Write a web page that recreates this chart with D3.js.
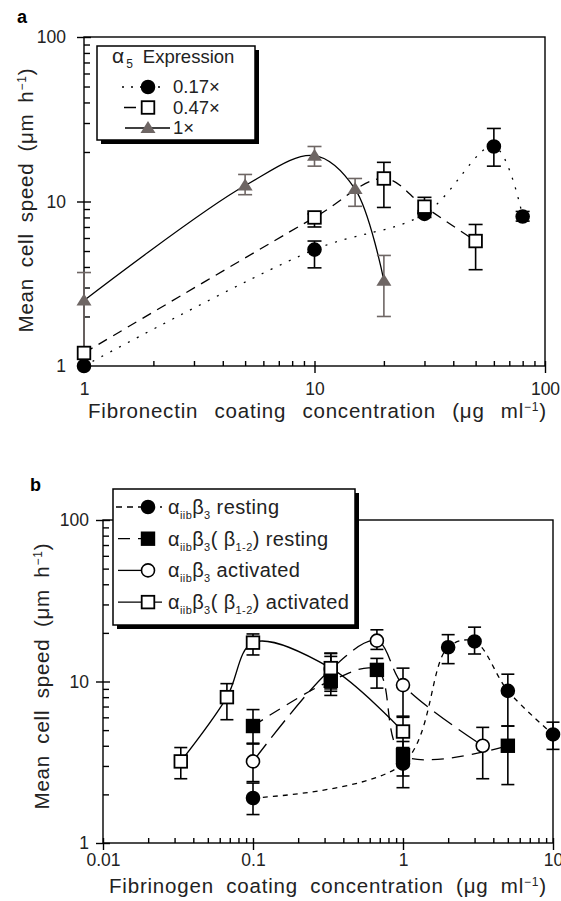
<!DOCTYPE html>
<html>
<head>
<meta charset="utf-8">
<script src="https://cdn.jsdelivr.net/npm/d3@7"></script>
<style>
  body { margin: 0; background: #fff; }
  text { font-family: "Liberation Sans", Arial, sans-serif; fill: #222; }
  .tick text { font-size: 17.5px; }
  .tick line { stroke: #000; stroke-width: 1.4; }
  .title { letter-spacing: 0.8px; }
</style>
</head>
<body>
<div id="chart"></div>
<script>
"use strict";
const svg = d3.select("#chart").append("svg")
    .attr("width", 561)
    .attr("height", 901);

// ---- panel a : fibronectin, alpha5 expression levels ----
const aCircX = [1, 10, 30, 60, 80],
    aCircY = [1.0, 5.1, 8.4, 21.6, 8.1],
    aCircLo = [null, 3.95, 8.0, 16.4, 7.6],
    aCircHi = [null, 5.75, 8.8, 27.8, 8.7];
const aSqX = [1, 10, 20, 30, 50],
    aSqY = [1.2, 8.0, 13.8, 9.3, 5.75],
    aSqLo = [null, 7.0, 9.2, 8.5, 3.85],
    aSqHi = [null, 8.4, 17.3, 10.6, 7.25];
const aTriX = [1, 5, 10, 15, 20],
    aTriY = [2.5, 12.5, 19.0, 11.9, 3.3],
    aTriLo = [1.3, 11.0, 16.4, 9.35, 2.0],
    aTriHi = [3.7, 14.6, 21.6, 13.8, 4.7];
const aLegend = ["0.17\u00d7", "0.47\u00d7", "1\u00d7"];

// ---- panel b : fibrinogen, alphaIIb beta3 variants ----
const bFcX = [0.1, 1, 2, 3, 5, 10],
    bFcY = [1.9, 3.1, 16.3, 17.7, 8.75, 4.7],
    bFcLo = [1.5, 2.2, 12.9, 14.8, 5.3, 3.8],
    bFcHi = [2.35, 3.7, 19.5, 21.7, 11.1, 5.6];
const bFsX = [0.1, 0.33, 0.67, 1, 5],
    bFsY = [5.3, 10.1, 11.8, 3.5, 4.0],
    bFsLo = [4.15, 8.2, 9.1, 2.6, 2.3],
    bFsHi = [6.7, 14.3, 13.9, 4.25, 5.3];
const bOcX = [0.1, 0.33, 0.67, 1, 3.4],
    bOcY = [3.2, 11.9, 17.9, 9.5, 4.0],
    bOcLo = [2.4, 8.7, 15.8, 6.1, 2.5],
    bOcHi = [4.1, 14.9, 20.9, 12.1, 5.2];
const bOsX = [0.033, 0.067, 0.1, 0.33, 1],
    bOsY = [3.2, 8.0, 17.4, 12.1, 4.9],
    bOsLo = [2.5, 5.8, 14.6, 9.0, 3.9],
    bOsHi = [3.9, 9.7, 19.7, 15.0, 6.0];
const bLegendTail = ["resting", "resting", "activated", "activated"];

// tick labels
const aXTicks = [1, 10, 100], aXLabels = ["1", "10", "100"];
const aYTicks = [1, 10, 100], aYLabels = ["1", "10", "100"];
const bXTicks = [0.01, 0.1, 1, 10], bXLabels = ["0.01", "0.1", "1", "10"];
const bYTicks = [1, 10, 100], bYLabels = ["1", "10", "100"];

const grey = "#6e6664";

const xA = d3.scaleLog().domain([1, 100]).range([84, 545]);
const yA = d3.scaleLog().domain([1, 100]).range([366, 37]);
const xB = d3.scaleLog().domain([0.01, 10]).range([103, 553]);
const yB = d3.scaleLog().domain([1, 100]).range([843, 520]);

const isMajor = d => Math.abs(Math.log10(d) - Math.round(Math.log10(d))) < 1e-6;

function drawAxes(x, y, o) {
    const g = svg.append("g");
    const [x0, x1] = x.range(), [y0, y1] = y.range();
    // minor ticks, pointing in
    g.append("g").attr("transform", `translate(0,${y0})`)
        .call(d3.axisBottom(x).tickValues(x.ticks().filter(d => !isMajor(d))).tickSize(-5).tickFormat(""))
        .call(s => s.select(".domain").remove());
    g.append("g").attr("transform", `translate(${x0},0)`)
        .call(d3.axisLeft(y).tickValues(y.ticks().filter(d => !isMajor(d))).tickSize(-6).tickFormat(""))
        .call(s => s.select(".domain").remove());
    // major ticks cross the axis
    g.append("g").attr("transform", `translate(0,${y0})`)
        .call(d3.axisBottom(x).tickValues(o.xTicks).tickFormat((d, i) => o.xLabels[i])
            .tickSize(7).tickPadding(o.xPad))
        .call(s => s.select(".domain").remove())
        .call(s => s.selectAll(".tick line").attr("y1", -5));
    g.append("g").attr("transform", `translate(${x0},0)`)
        .call(d3.axisLeft(y).tickValues(o.yTicks).tickFormat((d, i) => o.yLabels[i])
            .tickSize(7).tickPadding(o.yPad))
        .call(s => s.select(".domain").remove())
        .call(s => s.selectAll(".tick line").attr("x1", 7));
    g.append("rect")
        .attr("x", x0).attr("y", y1)
        .attr("width", x1 - x0).attr("height", y0 - y1)
        .attr("fill", "none").attr("stroke", "#000").attr("stroke-width", 1.4);
}

function drawLine(x, y, xs, ys, dash, color) {
    const line = d3.line()
        .x(d => x(d[0])).y(d => y(d[1]))
        .curve(d3.curveCatmullRom.alpha(0.5));
    svg.append("path")
        .datum(d3.zip(xs, ys))
        .attr("d", line)
        .attr("fill", "none")
        .attr("stroke", color || "#000")
        .attr("stroke-width", 1.3)
        .attr("stroke-dasharray", dash);
}

function drawErr(x, y, xs, lo, hi, color, cap) {
    const pts = xs.map((d, i) => ({x: d, lo: lo[i], hi: hi[i]})).filter(d => d.lo != null);
    const g = svg.append("g").attr("stroke", color || "#000").attr("stroke-width", 1.6);
    g.selectAll(null).data(pts).join("line")
        .attr("x1", d => x(d.x)).attr("x2", d => x(d.x))
        .attr("y1", d => y(d.lo)).attr("y2", d => y(d.hi));
    ["lo", "hi"].forEach(k => {
        g.selectAll(null).data(pts).join("line")
            .attr("x1", d => x(d.x) - cap).attr("x2", d => x(d.x) + cap)
            .attr("y1", d => y(d[k])).attr("y2", d => y(d[k]));
    });
}

function marker(g, type, cx, cy) {
    if (type === "fc" || type === "oc") {
        g.append("circle").attr("cx", cx).attr("cy", cy).attr("r", 6.5)
            .attr("fill", type === "fc" ? "#000" : "#fff")
            .attr("stroke", "#000").attr("stroke-width", 1.6);
    } else if (type === "fs" || type === "os") {
        g.append("rect").attr("x", cx - 6.3).attr("y", cy - 6.3)
            .attr("width", 12.6).attr("height", 12.6)
            .attr("fill", type === "fs" ? "#000" : "#fff")
            .attr("stroke", "#000").attr("stroke-width", 1.8);
    } else {
        g.append("path")
            .attr("d", `M${cx - 7.5},${cy + 5}L${cx + 7.5},${cy + 5}L${cx},${cy - 7}Z`)
            .attr("fill", grey);
    }
}

function drawMarkers(x, y, xs, ys, type) {
    const g = svg.append("g");
    xs.forEach((d, i) => marker(g, type, x(d), y(ys[i])));
}

// rich text: parts are [string, shift] with shift 0 normal, 1 sub, -1 sup
function rich(t, parts, size, small) {
    let cur = 0;
    parts.forEach(([s, sh]) => {
        const off = sh === 1 ? 5 : sh === -1 ? -7 : 0;
        t.append("tspan")
            .attr("dy", off - cur)
            .style("font-size", (sh ? small : size) + "px")
            .text(s);
        cur = off;
    });
    return t;
}

function spread(t, target) {
    const n = t.text().split(" ").length - 1;
    const len = t.node().getComputedTextLength();
    t.style("word-spacing", Math.max(0, (target - len) / n) + "px");
}

// ================= panel a =================
drawAxes(xA, yA, {xTicks: aXTicks, xLabels: aXLabels, yTicks: aYTicks, yLabels: aYLabels, xPad: 10, yPad: 11});
drawLine(xA, yA, aCircX, aCircY, "2,8");
drawLine(xA, yA, aSqX, aSqY, "10,7");
drawLine(xA, yA, aTriX, aTriY, null);
drawErr(xA, yA, aCircX, aCircLo, aCircHi, "#000", 7);
drawErr(xA, yA, aSqX, aSqLo, aSqHi, "#000", 7);
drawErr(xA, yA, aTriX, aTriLo, aTriHi, grey, 7);
drawMarkers(xA, yA, aCircX, aCircY, "fc");
drawMarkers(xA, yA, aSqX, aSqY, "os");
drawMarkers(xA, yA, aTriX, aTriY, "tri");

svg.append("text").attr("x", 17).attr("y", 23)
    .style("font-size", "18px").style("font-weight", "bold").style("fill", "#000").text("a");

const tA = rich(svg.append("text").attr("class", "title").attr("x", 88).attr("y", 418),
    [["Fibronectin coating concentration (\u03bcg ml", 0], ["\u22121", -1], [")", 0]], 20.5, 12);
spread(tA, 459);
const yTA = rich(svg.append("text").attr("class", "title").attr("transform", "translate(33,200) rotate(-90)")
        .attr("text-anchor", "middle"),
    [["Mean cell speed (\u03bcm h", 0], ["\u22121", -1], [")", 0]], 20.5, 12);
spread(yTA, 265);

// legend a
const legA = svg.append("g");
legA.append("rect").attr("x", 101).attr("y", 50).attr("width", 158).attr("height", 94).attr("fill", "#000");
legA.append("rect").attr("x", 97).attr("y", 46).attr("width", 158).attr("height", 94)
    .attr("fill", "#fff").attr("stroke", "#000").attr("stroke-width", 1.5);
const hdr = legA.append("text").attr("x", 112).attr("y", 63);
hdr.append("tspan").style("font-size", "21px").text("\u03b1");
hdr.append("tspan").attr("dy", 5).attr("dx", 2).style("font-size", "12px").text("5");
hdr.append("tspan").attr("dy", -5).attr("dx", 10).style("font-size", "18.5px").text("Expression");
const aLegRows = [
    {type: "fc", dash: "2,7", x1: 122, x2: 162},
    {type: "os", dash: "12,7", x1: 124, x2: 148},
    {type: "tri", dash: null, x1: 125, x2: 170}
];
aLegRows.forEach((r, i) => {
    const cy = 87 + 20.5 * i;
    legA.append("line").attr("x1", r.x1).attr("x2", r.x2).attr("y1", cy).attr("y2", cy)
        .attr("stroke", "#000").attr("stroke-width", 1.3).attr("stroke-dasharray", r.dash);
    marker(legA, r.type, 148, cy);
    legA.append("text").attr("x", 173).attr("y", cy + 6).style("font-size", "18.5px").text(aLegend[i]);
});

// ================= panel b =================
drawAxes(xB, yB, {xTicks: bXTicks, xLabels: bXLabels, yTicks: bYTicks, yLabels: bYLabels, xPad: 4, yPad: 7});
drawLine(xB, yB, bFcX, bFcY, "5,5");
drawLine(xB, yB, bFsX, bFsY, "12,8");
drawLine(xB, yB, bOcX, bOcY, "22,8");
drawLine(xB, yB, bOsX, bOsY, null);
drawErr(xB, yB, bFcX, bFcLo, bFcHi, "#000", 6.5);
drawErr(xB, yB, bFsX, bFsLo, bFsHi, "#000", 6.5);
drawErr(xB, yB, bOcX, bOcLo, bOcHi, "#000", 6.5);
drawErr(xB, yB, bOsX, bOsLo, bOsHi, "#000", 6.5);
drawMarkers(xB, yB, bFcX, bFcY, "fc");
drawMarkers(xB, yB, bFsX, bFsY, "fs");
drawMarkers(xB, yB, bOcX, bOcY, "oc");
drawMarkers(xB, yB, bOsX, bOsY, "os");

svg.append("text").attr("x", 30).attr("y", 491)
    .style("font-size", "18px").style("font-weight", "bold").style("fill", "#000").text("b");

const tB = rich(svg.append("text").attr("class", "title").attr("x", 109).attr("y", 893),
    [["Fibrinogen coating concentration (\u03bcg ml", 0], ["\u22121", -1], [")", 0]], 20.5, 12);
spread(tB, 438);
const yTB = rich(svg.append("text").attr("class", "title").attr("transform", "translate(49,676) rotate(-90)")
        .attr("text-anchor", "middle"),
    [["Mean cell speed (\u03bcm h", 0], ["\u22121", -1], [")", 0]], 20.5, 12);
spread(yTB, 267);

// legend b
const legB = svg.append("g");
legB.append("rect").attr("x", 117).attr("y", 493).attr("width", 242).attr("height", 136).attr("fill", "#000");
legB.append("rect").attr("x", 113).attr("y", 489).attr("width", 242).attr("height", 136)
    .attr("fill", "#fff").attr("stroke", "#000").attr("stroke-width", 1.5);
const bLegRows = [
    {type: "fc", dash: "6,5", x1: 116, x2: 162, beta12: false},
    {type: "fs", dash: "12,8", x1: 118, x2: 148, beta12: true},
    {type: "oc", dash: null, x1: 118, x2: 148, beta12: false},
    {type: "os", dash: null, x1: 118, x2: 162, beta12: true}
];
bLegRows.forEach((r, i) => {
    const cy = 507 + 31.7 * i;
    legB.append("line").attr("x1", r.x1).attr("x2", r.x2).attr("y1", cy).attr("y2", cy)
        .attr("stroke", "#000").attr("stroke-width", 1.3).attr("stroke-dasharray", r.dash);
    marker(legB, r.type, 148, cy);
    const parts = [["\u03b1", 0], ["iib", 1], ["\u03b2", 0], ["3", 1]];
    if (r.beta12) parts.push(["( \u03b2", 0], ["1-2", 1], [") " + bLegendTail[i], 0]);
    else parts.push([" " + bLegendTail[i], 0]);
    rich(legB.append("text").attr("x", 168).attr("y", cy + 7).style("letter-spacing", "0.4px"), parts, 20, 11);
});
</script>
</body>
</html>
